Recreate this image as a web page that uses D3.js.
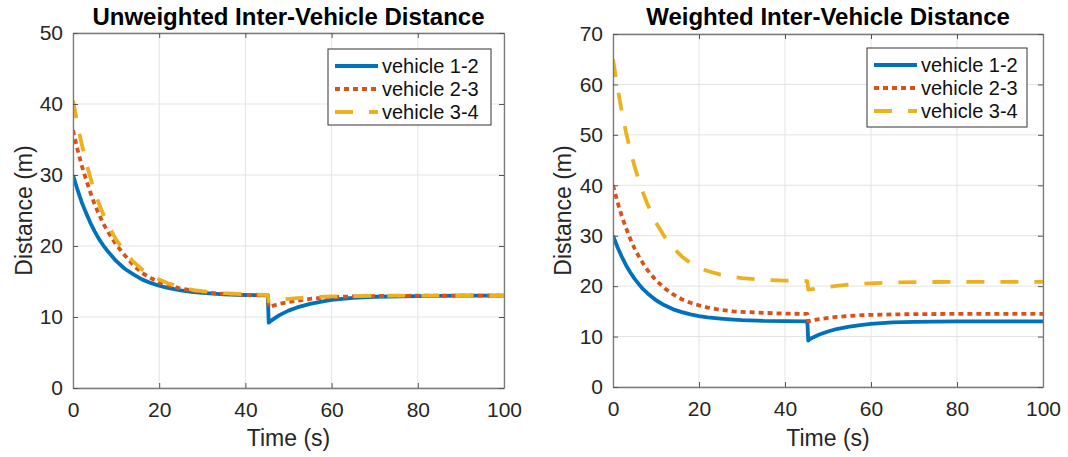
<!DOCTYPE html>
<html>
<head>
<meta charset="utf-8">
<script src="https://cdn.jsdelivr.net/npm/d3@7"></script>
<style>
  html, body { margin: 0; padding: 0; background: #fff; }
  svg { display: block; font-family: "Liberation Sans", Arial, Helvetica, sans-serif; }
</style>
</head>
<body>
<svg id="chart" width="1068" height="457"></svg>
<script>
// Sample times (s), shared by every series
const time = [0,1,2,3,4,5,6,7,8,10,12,14,16,18,20,22,25,28,30,35,40,45,45.2,45.4,46,47,48,50,52,55,58,60,65,70,80,90,100];

// Unweighted spacing (m)
const unweighted12 = [30,28.0,26.2,24.7,23.3,22.1,21.0,20.1,19.3,17.9,16.8,16.0,15.3,14.8,14.4,14.1,13.75,13.5,13.4,13.2,13.1,13.05,13.05,9.2,9.5,9.9,10.3,10.9,11.35,11.85,12.2,12.4,12.7,12.85,12.95,13.0,13.0];
const unweighted23 = [36.3,33.7,31.4,29.4,27.6,25.9,24.5,23.2,22.1,20.2,18.7,17.3,16.2,15.5,14.9,14.5,14.0,13.7,13.5,13.25,13.1,13.05,13.05,11.4,11.5,11.7,11.85,12.1,12.3,12.55,12.7,12.8,12.9,12.95,13.0,13.0,13.0];
const unweighted34 = [40.5,37.3,34.4,31.9,29.7,27.7,26.0,24.5,23.1,20.9,19.1,17.8,16.7,15.9,15.3,14.75,14.2,13.8,13.65,13.35,13.2,13.1,13.1,12.2,12.25,12.35,12.45,12.55,12.65,12.75,12.85,12.9,12.95,13.0,13.0,13.0,13.0];

// Weighted spacing (m)
const weighted12 = [30,27.8,25.9,24.2,22.75,21.5,20.4,19.4,18.6,17.2,16.2,15.4,14.85,14.4,14.05,13.8,13.55,13.35,13.25,13.1,13.05,13.0,13.0,9.2,9.6,10.0,10.4,11.0,11.5,11.95,12.3,12.5,12.8,12.9,13.0,13.0,13.0];
const weighted23 = [40.0,36.8,34.0,31.6,29.4,27.5,25.9,24.5,23.2,21.15,19.6,18.35,17.4,16.7,16.2,15.75,15.3,15.0,14.9,14.7,14.55,14.5,14.5,13.0,13.1,13.3,13.45,13.7,13.9,14.1,14.25,14.3,14.4,14.45,14.5,14.5,14.5];
const weighted34 = [65,59.6,54.8,50.6,47.0,43.8,41.0,38.5,36.3,32.6,29.8,27.6,25.9,24.6,23.7,23.0,22.3,21.8,21.6,21.25,21.1,21.0,21.0,19.3,19.35,19.45,19.6,19.85,20.05,20.3,20.5,20.55,20.7,20.8,20.85,20.85,20.85];

const seriesNames = ["vehicle 1-2", "vehicle 2-3", "vehicle 3-4"];
const xTicks = [0, 20, 40, 60, 80, 100];
const unweightedYTicks = [0, 10, 20, 30, 40, 50];
const weightedYTicks = [0, 10, 20, 30, 40, 50, 60, 70];
const panelTitles = ["Unweighted Inter-Vehicle Distance", "Weighted Inter-Vehicle Distance"];
const xLabel = "Time (s)";
const yLabel = "Distance (m)";

// Line styles per series
const styles = [
  { color: "#0072BD", dash: null },
  { color: "#D95319", dash: "5,4" },
  { color: "#EDB120", dash: "18,16" }
];

const panels = [
  { title: panelTitles[0], series: [unweighted12, unweighted23, unweighted34], yTicks: unweightedYTicks,
    box: { x0: 73, x1: 504, y0: 33, y1: 388 }, legend: { x: 328, y: 49, w: 163, h: 76 }, ylabX: 24 },
  { title: panelTitles[1], series: [weighted12, weighted23, weighted34], yTicks: weightedYTicks,
    box: { x0: 613, x1: 1043, y0: 34, y1: 387 }, legend: { x: 867, y: 48, w: 160, h: 79 }, ylabX: 563 }
];

const svg = d3.select("#chart");

panels.forEach((p, pi) => {
  const b = p.box;
  const x = d3.scaleLinear().domain([0, 100]).range([b.x0, b.x1]);
  const yMax = p.yTicks[p.yTicks.length - 1];
  const y = d3.scaleLinear().domain([0, yMax]).range([b.y1, b.y0]);
  const g = svg.append("g");

  // grid
  g.append("g").selectAll("line").data(xTicks).join("line")
    .attr("x1", d => x(d)).attr("x2", d => x(d)).attr("y1", b.y0).attr("y2", b.y1)
    .attr("stroke", "#e3e3e3").attr("stroke-width", 1);
  g.append("g").selectAll("line").data(p.yTicks).join("line")
    .attr("y1", d => y(d)).attr("y2", d => y(d)).attr("x1", b.x0).attr("x2", b.x1)
    .attr("stroke", "#e3e3e3").attr("stroke-width", 1);

  // series lines
  const clipId = "clip" + pi;
  svg.append("clipPath").attr("id", clipId).append("rect")
    .attr("x", b.x0).attr("y", b.y0).attr("width", b.x1 - b.x0).attr("height", b.y1 - b.y0);
  const line = d3.line().x((d, i) => x(time[i])).y(d => y(d));
  p.series.forEach((s, si) => {
    g.append("path").datum(s)
      .attr("d", line)
      .attr("fill", "none")
      .attr("stroke", styles[si].color)
      .attr("stroke-width", 3.8)
      .attr("stroke-dasharray", styles[si].dash)
      .attr("stroke-linejoin", "round")
      .attr("clip-path", `url(#${clipId})`);
  });

  // axes with inward ticks on all sides
  const tickLen = 5;
  const axB = d3.axisBottom(x).tickValues(xTicks).tickSizeInner(-tickLen).tickSizeOuter(0).tickPadding(14);
  const axT = d3.axisTop(x).tickValues(xTicks).tickSizeInner(-tickLen).tickSizeOuter(0).tickFormat("");
  const axL = d3.axisLeft(y).tickValues(p.yTicks).tickSizeInner(-tickLen).tickSizeOuter(0).tickPadding(10);
  const axR = d3.axisRight(y).tickValues(p.yTicks).tickSizeInner(-tickLen).tickSizeOuter(0).tickFormat("");

  const gb = g.append("g").attr("transform", `translate(0,${b.y1})`).call(axB);
  const gt = g.append("g").attr("transform", `translate(0,${b.y0})`).call(axT);
  const gl = g.append("g").attr("transform", `translate(${b.x0},0)`).call(axL);
  const gr = g.append("g").attr("transform", `translate(${b.x1},0)`).call(axR);
  [gb, gt, gl, gr].forEach(a => {
    a.select(".domain").attr("stroke", "#7a7a7a").attr("stroke-width", 1.3);
    a.selectAll(".tick line").attr("stroke", "#555");
    a.selectAll(".tick text").attr("fill", "#262626").attr("font-size", 21)
      .attr("font-family", "Liberation Sans, Arial, sans-serif");
  });
  gb.selectAll(".tick text").attr("dy", "0.71em");

  // titles and labels
  g.append("text").attr("x", (b.x0 + b.x1) / 2).attr("y", 25)
    .attr("text-anchor", "middle").attr("font-weight", "bold").attr("font-size", 24)
    .attr("fill", "#000").text(p.title);
  g.append("text").attr("x", (b.x0 + b.x1) / 2).attr("y", 446)
    .attr("text-anchor", "middle").attr("font-size", 23).attr("fill", "#262626").text(xLabel);
  g.append("text").attr("transform", `translate(${p.ylabX},${(b.y0 + b.y1) / 2}) rotate(-90)`)
    .attr("text-anchor", "middle").attr("dy", "0.35em").attr("font-size", 23).attr("fill", "#262626").text(yLabel);

  // legend
  const L = p.legend;
  const lg = g.append("g");
  lg.append("rect").attr("x", L.x).attr("y", L.y).attr("width", L.w).attr("height", L.h)
    .attr("fill", "#fff").attr("stroke", "#333").attr("stroke-width", 1);
  const rowH = 23;
  seriesNames.forEach((name, si) => {
    const cy = L.y + 17 + si * rowH;
    lg.append("line").attr("x1", L.x + 7).attr("x2", L.x + 50).attr("y1", cy).attr("y2", cy)
      .attr("stroke", styles[si].color).attr("stroke-width", 3.8)
      .attr("stroke-dasharray", styles[si].dash);
    lg.append("text").attr("x", L.x + 54).attr("y", cy).attr("dy", "0.35em")
      .attr("font-size", 20).attr("fill", "#111").text(name);
  });
});
</script>
</body>
</html>
